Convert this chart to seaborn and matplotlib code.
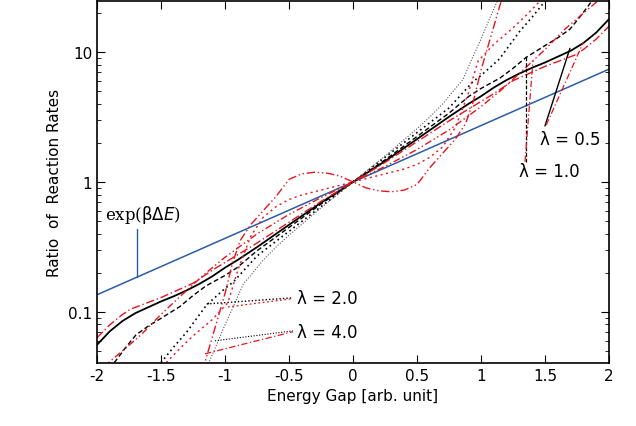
import numpy as np
import matplotlib
matplotlib.use("Agg")
import matplotlib.pyplot as plt
import seaborn as sns

sns.set_theme(style="ticks")
plt.rcParams["font.family"] = ["DejaVu Sans"]
plt.rcParams["text.color"] = "black"
plt.rcParams["axes.labelcolor"] = "black"
plt.rcParams["xtick.color"] = "black"
plt.rcParams["ytick.color"] = "black"
plt.rcParams["axes.edgecolor"] = "black"

# ---- black curves: rate ratio for each reorganisation energy ----
l05_x = [-2.0, -1.9, -1.8, -1.7, -1.6, -1.5, -1.4, -1.3, -1.2, -1.1, -1.0,
         -0.9, -0.75, -0.5, -0.25, 0.0, 0.25, 0.5, 0.75, 0.9, 1.0, 1.1, 1.2,
         1.3, 1.4, 1.5, 1.6, 1.7, 1.8, 1.9, 2.0]
l05_y = [0.0557, 0.0708, 0.0851, 0.0977, 0.1084, 0.1202, 0.1318, 0.1462,
         0.1641, 0.1875, 0.2188, 0.2512, 0.3148, 0.4677, 0.692, 1.0, 1.445,
         2.138, 3.177, 3.981, 4.571, 5.333, 6.095, 6.839, 7.586, 8.318, 9.226,
         10.23, 11.75, 14.13, 17.95]

l10_x = [-1.865, -1.78, -1.695, -1.6, -1.5, -1.352, -1.25, -1.148, -1.0,
         -0.906, -0.75, -0.5, -0.25, 0.0, 0.25, 0.5, 0.75, 0.906, 1.0, 1.148,
         1.25, 1.352, 1.5, 1.6, 1.695, 1.78, 1.865]
l10_y = [0.0406, 0.0525, 0.0665, 0.0776, 0.0891, 0.1099, 0.1334, 0.1585,
         0.1905, 0.2188, 0.2951, 0.4467, 0.676, 1.0, 1.479, 2.239, 3.388,
         4.571, 5.248, 6.310, 7.499, 9.099, 11.22, 12.88, 15.03, 19.05, 24.66]

l20_x = [-1.5, -1.4, -1.3, -1.143, -1.0, -0.935, -0.75, -0.5, -0.25, 0.0,
         0.25, 0.5, 0.75, 0.935, 1.0, 1.143, 1.3, 1.4, 1.5]
l20_y = [0.0406, 0.0537, 0.0697, 0.1132, 0.1514, 0.1698, 0.2692, 0.4169,
         0.6457, 1.0, 1.549, 2.399, 3.715, 5.888, 6.607, 8.831, 14.35, 18.62,
         24.66]

l40_x = [-1.13, -1.06, -1.0, -0.935, -0.857, -0.8, -0.7, -0.6, -0.5, -0.25,
         0.0, 0.25, 0.5, 0.6, 0.7, 0.8, 0.857, 0.935, 1.0, 1.06, 1.13]
l40_y = [0.0398, 0.0575, 0.0794, 0.1096, 0.1641, 0.1905, 0.2512, 0.3162,
         0.3890, 0.6310, 1.0, 1.585, 2.570, 3.162, 3.981, 5.248, 6.095, 9.120,
         12.59, 17.38, 25.12]

# ---- red curves: approximate rate ratio for the same energies ----
a05_x = [-2.0, -1.9, -1.8, -1.74, -1.5, -1.25, -1.1, -1.0, -0.75, -0.5,
         -0.25, 0.0, 0.25, 0.5, 0.75, 1.0, 1.1, 1.25, 1.5, 1.74, 1.8, 1.9, 2.0]
a05_y = [0.0631, 0.0794, 0.0955, 0.1047, 0.1288, 0.1660, 0.2089, 0.2399,
         0.3388, 0.4898, 0.7079, 1.0, 1.413, 2.042, 2.951, 4.169, 4.786,
         6.026, 7.762, 9.550, 10.47, 12.59, 15.85]

a10_x = [-1.91, -1.8, -1.656, -1.5, -1.406, -1.25, -1.148, -1.0, -0.75, -0.5,
         -0.25, 0.0, 0.25, 0.5, 0.75, 1.0, 1.148, 1.25, 1.406, 1.5, 1.656,
         1.8, 1.91]
a10_y = [0.0406, 0.0501, 0.0665, 0.0955, 0.1167, 0.1622, 0.1995, 0.2630,
         0.3981, 0.5623, 0.7586, 1.0, 1.318, 1.778, 2.512, 3.802, 5.012,
         6.166, 8.570, 10.47, 15.03, 19.95, 24.66]

a20_x = [-1.46, -1.35, -1.24, -1.1, -0.977, -0.9, -0.8, -0.7, -0.6, -0.5,
         -0.4, -0.2, 0.0, 0.2, 0.4, 0.5, 0.6, 0.7, 0.8, 0.9, 0.977, 1.1,
         1.24, 1.35, 1.46]
a20_y = [0.0406, 0.0525, 0.0665, 0.0871, 0.1175, 0.2089, 0.3802, 0.5370,
         0.6457, 0.7328, 0.7943, 0.8913, 1.0, 1.122, 1.259, 1.365, 1.549,
         1.862, 2.630, 4.786, 8.511, 11.48, 15.03, 19.05, 24.66]

a40_x = [-1.22, -1.16, -1.08, -1.0, -0.94, -0.88, -0.8, -0.7, -0.6, -0.5,
         -0.4, -0.3, -0.2, -0.1, 0.0, 0.1, 0.2, 0.3, 0.4, 0.5, 0.6, 0.7,
         0.8, 0.88, 0.94, 1.0, 1.08, 1.16, 1.22]
a40_y = [0.0251, 0.0398, 0.0741, 0.138, 0.240, 0.355, 0.468, 0.603, 0.776,
         1.047, 1.156, 1.189, 1.169, 1.109, 1.0, 0.902, 0.855, 0.841, 0.865,
         0.955, 1.288, 1.660, 2.138, 2.818, 4.169, 7.244, 13.49, 25.12, 39.81]

# ---- reference line exp(beta * dE) ----
exp_x = [-2.0, 2.0]
exp_y = [0.1353, 7.389]

fig, ax = plt.subplots(figsize=(6.36, 4.27), dpi=100)
fig.subplots_adjust(left=0.1525, right=0.9575, top=0.995, bottom=0.148)

blue = "#2a5caa"
red = "#e8141c"

sns.lineplot(x=exp_x, y=exp_y, ax=ax, color=blue, lw=1.1)
sns.lineplot(x=l05_x, y=l05_y, ax=ax, color="black", lw=1.3)
sns.lineplot(x=l10_x, y=l10_y, ax=ax, color="black", lw=1.0,
             linestyle=(0, (3.5, 2)))
sns.lineplot(x=l20_x, y=l20_y, ax=ax, color="black", lw=1.2,
             linestyle=(0, (1, 2)))
sns.lineplot(x=l40_x, y=l40_y, ax=ax, color="#555555", lw=0.8,
             linestyle=(0, (1, 1.5)))

sns.lineplot(x=a05_x, y=a05_y, ax=ax, color=red, lw=1.0,
             linestyle=(0, (6, 2, 1, 2)))
sns.lineplot(x=a10_x, y=a10_y, ax=ax, color=red, lw=1.0,
             linestyle=(0, (1, 2, 1, 2, 5, 2)))
sns.lineplot(x=a20_x, y=a20_y, ax=ax, color=red, lw=1.0,
             linestyle=(0, (1.5, 2.5)))
sns.lineplot(x=a40_x, y=a40_y, ax=ax, color=red, lw=1.0,
             linestyle=(0, (6, 2, 1, 2, 1, 2)))

ax.set_yscale("log")
ax.set_xlim(-2, 2)
ax.set_ylim(0.0405, 24.7)
ax.set_xticks([-2, -1.5, -1, -0.5, 0, 0.5, 1, 1.5, 2])
ax.set_xticklabels(["-2", "-1.5", "-1", "-0.5", "0", "0.5", "1", "1.5", "2"])
ax.set_yticks([0.1, 1, 10])
ax.set_yticklabels(["0.1", "1", "10"])
ax.tick_params(axis="both", which="both", direction="in", top=True, right=True,
               labelsize=11)
ax.tick_params(axis="both", which="major", length=6, width=0.8)
ax.tick_params(axis="y", which="minor", length=3, width=0.6)
for s in ax.spines.values():
    s.set_linewidth(1.2)
ax.set_xlabel("Energy Gap [arb. unit]", fontsize=11)
ax.set_ylabel("Ratio  of  Reaction Rates", fontsize=11)

# ---- annotations ----
ax.text(-1.94, 0.567, r"exp($\mathrm{\beta\Delta}E$)", fontsize=12, family="serif",
        va="center")
ax.plot([-1.69, -1.69], [0.184, 0.435], color=blue, lw=1.0)

ax.text(1.46, 2.14, "λ = 0.5", fontsize=12, va="center")
ax.plot([1.5, 1.695], [2.70, 10.7], color="black", lw=1.0)
ax.plot([1.51, 1.8], [2.75, 11.9], color=red, lw=0.9,
        linestyle=(0, (5, 2, 1, 2)))

ax.text(1.30, 1.22, "λ = 1.0", fontsize=12, va="center")
ax.plot([1.352, 1.352], [1.43, 9.1], color="black", lw=0.9,
        linestyle=(0, (3, 1.5)))
ax.plot([1.344, 1.406], [1.43, 8.57], color=red, lw=0.9,
        linestyle=(0, (5, 2, 1, 2)))

ax.text(-0.44, 0.128, "λ = 2.0", fontsize=12, va="center")
ax.plot([-1.143, -0.479], [0.115, 0.128], color="black", lw=1.0,
        linestyle=(0, (1, 1.5)))
ax.plot([-0.977, -0.479], [0.109, 0.126], color=red, lw=0.9,
        linestyle=(0, (1.5, 2)))

ax.text(-0.44, 0.070, "λ = 4.0", fontsize=12, va="center")
ax.plot([-1.078, -0.469], [0.0598, 0.0714], color="black", lw=0.8,
        linestyle=(0, (1, 1.5)))
ax.plot([-1.156, -0.469], [0.0475, 0.0703], color=red, lw=0.9,
        linestyle=(0, (5, 2, 1, 2)))

fig.savefig("out.png", dpi=100)
